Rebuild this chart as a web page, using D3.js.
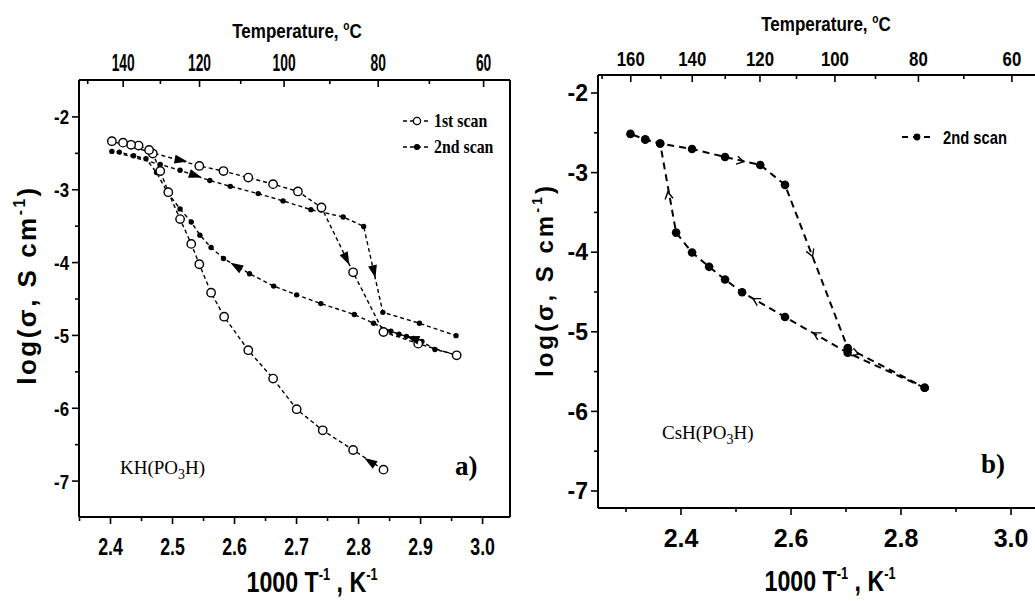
<!DOCTYPE html>
<html>
<head>
<meta charset="utf-8">
<script src="https://cdn.jsdelivr.net/npm/d3@7"></script>
<style>
  body { margin: 0; background: #fff; }
  svg { display: block; }
  .sans { font-family: "Liberation Sans", Arial, sans-serif; font-weight: bold; }
  .serif { font-family: "Liberation Serif", "Times New Roman", serif; }
</style>
</head>
<body>
<svg id="chart" width="1035" height="601"></svg>
<script>
// --- Data (x = 1000/T in K^-1, y = log sigma) ---
// KH(PO3H), 1st scan: heating (lower branch) then cooling (upper branch)
const kh1stScan = [
  [2.841, -6.85], [2.792, -6.58], [2.743, -6.31], [2.701, -6.02], [2.663, -5.60],
  [2.623, -5.21], [2.584, -4.75], [2.563, -4.42], [2.544, -4.03], [2.531, -3.75],
  [2.513, -3.41], [2.494, -3.04], [2.481, -2.75], [2.469, -2.51], [2.463, -2.46],
  [2.446, -2.40], [2.434, -2.39], [2.421, -2.36], [2.403, -2.34],
  [2.544, -2.68], [2.583, -2.75], [2.623, -2.84], [2.663, -2.93], [2.703, -3.03],
  [2.741, -3.25], [2.792, -4.14], [2.841, -4.96], [2.897, -5.12], [2.959, -5.28]
];
// KH(PO3H), 2nd scan
const kh2ndScan = [
  [2.958, -5.27], [2.924, -5.20], [2.903, -5.09], [2.890, -5.05], [2.878, -5.02],
  [2.866, -4.99], [2.853, -4.95], [2.825, -4.84], [2.794, -4.72], [2.740, -4.57],
  [2.701, -4.45], [2.664, -4.33], [2.625, -4.16], [2.583, -3.95], [2.563, -3.80],
  [2.545, -3.63], [2.531, -3.45], [2.513, -3.27], [2.493, -3.05], [2.475, -2.77],
  [2.458, -2.58], [2.438, -2.54], [2.415, -2.49], [2.403, -2.48],
  [2.481, -2.66], [2.513, -2.74], [2.561, -2.88], [2.594, -2.96], [2.639, -3.06],
  [2.679, -3.16], [2.724, -3.28], [2.776, -3.38], [2.809, -3.51], [2.840, -4.69],
  [2.899, -4.84], [2.958, -5.01]
];
// CsH(PO3H), 2nd scan
const cs2ndScan = [
  [2.844, -5.71], [2.704, -5.27], [2.590, -4.82], [2.512, -4.51], [2.481, -4.35],
  [2.452, -4.19], [2.421, -4.01], [2.392, -3.76], [2.363, -2.64], [2.336, -2.59],
  [2.309, -2.52], [2.336, -2.59], [2.363, -2.64], [2.421, -2.71], [2.481, -2.81],
  [2.545, -2.91], [2.590, -3.16], [2.704, -5.21], [2.844, -5.71]
];

// direction arrows: [fromX, fromY, toX, toY]
const khArrows = [
  [2.500, -2.58, 2.525, -2.62],
  [2.530, -2.79, 2.548, -2.84],
  [2.612, -4.10, 2.594, -4.01],
  [2.770, -3.76, 2.786, -4.04],
  [2.822, -4.00, 2.828, -4.22],
  [2.830, -6.80, 2.810, -6.69],
  [2.900, -5.08, 2.878, -5.02]
];
const csArrows = [
  [2.490, -2.83, 2.515, -2.87],
  [2.630, -3.88, 2.640, -4.06],
  [2.382, -3.45, 2.377, -3.25],
  [2.550, -4.66, 2.532, -4.59],
  [2.660, -5.09, 2.642, -5.02],
  [2.708, -5.25, 2.724, -5.29]
];

const xTicksA = [2.4, 2.5, 2.6, 2.7, 2.8, 2.9, 3.0];
const xMinorA = [2.35, 2.45, 2.55, 2.65, 2.75, 2.85, 2.95];
const xTicksB = [2.4, 2.6, 2.8, 3.0];
const xMinorB = [2.3, 2.5, 2.7, 2.9];
const yTicks = [-2, -3, -4, -5, -6, -7];
const yMinor = [-2.5, -3.5, -4.5, -5.5, -6.5];
const tempTicksA = [140, 120, 100, 80, 60];
const tempMinorA = [150, 130, 110, 90, 70];
const tempTicksB = [160, 140, 120, 100, 80, 60];
const tempMinorB = [170, 150, 130, 110, 90, 70];

const toInvT = t => 1000 / (t + 273.15);

const svg = d3.select('#chart');

// condensed text: scale horizontally around its anchor
function placeText(g, x, y, size, sx, cls) {
  return g.append('text').attr('class', cls).attr('font-size', size)
    .attr('text-anchor', 'middle').attr('transform', `translate(${x},${y}) scale(${sx},1)`);
}

function drawPanel(opt) {
  const { x, y } = opt;
  const g = svg.append('g');
  const [x0, x1] = x.range();
  const [y0, y1] = y.range(); // y0 bottom, y1 top

  // minor ticks
  g.append('g').attr('transform', `translate(0,${y0})`)
    .call(d3.axisBottom(x).tickValues(opt.xMinor).tickSize(4).tickFormat(''));
  g.append('g').attr('transform', `translate(${x0},0)`)
    .call(d3.axisLeft(y).tickValues(yMinor).tickSize(4).tickFormat(''));
  g.append('g').attr('transform', `translate(0,${y1})`)
    .call(d3.axisTop(x).tickValues(opt.tempMinor.map(toInvT)).tickSize(-4).tickFormat(''));

  // major axes
  const bottom = g.append('g').attr('transform', `translate(0,${y0})`)
    .call(d3.axisBottom(x).tickValues(opt.xTicks).tickSize(7).tickPadding(opt.bottomPad).tickFormat(d3.format('.1f')));
  bottom.selectAll('text').attr('class', 'sans').attr('font-size', opt.bottomFont)
    .attr('transform', `scale(${opt.bottomScale},1)`);

  const left = g.append('g').attr('transform', `translate(${x0},0)`)
    .call(d3.axisLeft(y).tickValues(yTicks).tickSize(7).tickPadding(5).tickFormat(d => String(d)));
  left.selectAll('text').attr('class', 'sans').attr('font-size', opt.leftFont).attr('dy', '0.36em')
    .attr('x', -(opt.leftGap) / opt.leftScale).attr('transform', `scale(${opt.leftScale},1)`);

  const top = g.append('g').attr('transform', `translate(0,${y1})`)
    .call(d3.axisTop(x).tickValues(opt.tempTicks.map(toInvT)).tickSize(-7).tickPadding(opt.topPad)
      .tickFormat((d, i) => opt.tempTicks[i]));
  top.selectAll('text').attr('class', 'sans').attr('font-size', opt.topFont)
    .attr('transform', `scale(${opt.topScale},1)`);

  g.selectAll('.domain').remove();
  g.selectAll('.tick line').attr('stroke', '#000').attr('stroke-width', 1.6);
  g.selectAll('.tick text').attr('fill', '#000');

  // frame
  const frame = [[x0, y0, x1, y0], [x0, y1, x1, y1], [x0, y0, x0, y1], [x1, y0, x1, y1]];
  g.selectAll('.frame').data(frame).join('line')
    .attr('x1', d => d[0]).attr('y1', d => d[1]).attr('x2', d => d[2]).attr('y2', d => d[3])
    .attr('stroke', '#000').attr('stroke-width', 2);

  // titles
  const tt = placeText(g, opt.titleX, opt.titleY, opt.titleFont, opt.titleScale, 'sans');
  tt.append('tspan').text('Temperature, ');
  tt.append('tspan').attr('font-size', opt.titleFont * 0.6).attr('dy', -8).text('o');
  tt.append('tspan').attr('dy', 8).text('C');

  const xl = placeText(g, opt.xlabX, opt.xlabY, opt.xlabFont, opt.xlabScale, 'sans');
  xl.append('tspan').text('1000 T');
  xl.append('tspan').attr('font-size', opt.xlabFont * 0.55).attr('dy', -12).text('-1');
  xl.append('tspan').attr('dy', 12).text(' , K');
  xl.append('tspan').attr('font-size', opt.xlabFont * 0.55).attr('dy', -12).text('-1');

  const yl = g.append('text').attr('class', 'sans').attr('font-size', opt.ylabFont)
    .attr('letter-spacing', opt.ylabSpacing)
    .attr('transform', `translate(${opt.ylabX},${opt.ylabY}) rotate(-90)`).attr('text-anchor', 'middle');
  yl.append('tspan').text('log(σ, S cm');
  yl.append('tspan').attr('font-size', opt.ylabFont * 0.6).attr('dy', -11).text('-1');
  yl.append('tspan').attr('dy', 11).text(')');

  return g;
}

// ---------- Panel a ----------
const xA = d3.scaleLinear().domain([2.35, 3.045]).range([79, 510]);
const yA = d3.scaleLinear().domain([-7.5, -1.5]).range([517, 80]);
const gA = drawPanel({
  x: xA, y: yA, xTicks: xTicksA, xMinor: xMinorA, tempTicks: tempTicksA, tempMinor: tempMinorA,
  bottomPad: 14, bottomFont: 24, bottomScale: 0.74,
  leftFont: 21, leftScale: 0.8, leftGap: 10,
  topPad: 9, topFont: 23, topScale: 0.6,
  titleFont: 20, titleScale: 0.85, titleX: 297, titleY: 38,
  xlabFont: 29, xlabScale: 0.8, xlabX: 312, xlabY: 592,
  ylabFont: 26, ylabSpacing: 2.5, ylabX: 36, ylabY: 285
});

const lineA = d3.line().x(d => xA(d[0])).y(d => yA(d[1]));
gA.append('path').datum(kh2ndScan).attr('d', lineA).attr('fill', 'none')
  .attr('stroke', '#000').attr('stroke-width', 1.4).attr('stroke-dasharray', '4,3');
gA.append('path').datum(kh1stScan).attr('d', lineA).attr('fill', 'none')
  .attr('stroke', '#000').attr('stroke-width', 1.4).attr('stroke-dasharray', '4,3');
gA.selectAll('.dot2').data(kh2ndScan).join('circle')
  .attr('cx', d => xA(d[0])).attr('cy', d => yA(d[1])).attr('r', 2.7).attr('fill', '#000');
gA.selectAll('.dot1').data(kh1stScan).join('circle')
  .attr('cx', d => xA(d[0])).attr('cy', d => yA(d[1])).attr('r', 4.2)
  .attr('fill', '#fff').attr('stroke', '#000').attr('stroke-width', 1.4);

gA.selectAll('.arrowA').data(khArrows).join('path')
  .attr('d', 'M0,0 L-13,-4.5 L-13,4.5 Z').attr('fill', '#000')
  .attr('transform', d => {
    const ang = Math.atan2(yA(d[3]) - yA(d[1]), xA(d[2]) - xA(d[0])) * 180 / Math.PI;
    return `translate(${xA(d[2])},${yA(d[3])}) rotate(${ang})`;
  });

// legend a
const legA = gA.append('g');
[['1st scan', 121, true], ['2nd scan', 147, false]].forEach(([label, ly, open]) => {
  legA.append('line').attr('x1', 403).attr('x2', 431).attr('y1', ly).attr('y2', ly)
    .attr('stroke', '#000').attr('stroke-width', 1.4).attr('stroke-dasharray', '4,3');
  legA.append('circle').attr('cx', 417).attr('cy', ly).attr('r', open ? 3.6 : 2.4)
    .attr('fill', open ? '#fff' : '#000').attr('stroke', '#000').attr('stroke-width', 1.3);
  legA.append('text').attr('class', 'serif').attr('font-weight', 'bold').attr('font-size', 18)
    .attr('transform', `translate(434,${ly + 6}) scale(0.88,1)`).text(label);
});

const lblA = gA.append('text').attr('class', 'serif').attr('font-size', 19).attr('x', 120).attr('y', 474);
lblA.append('tspan').text('KH(PO');
lblA.append('tspan').attr('font-size', 14).attr('dy', 5).text('3');
lblA.append('tspan').attr('dy', -5).text('H)');
gA.append('text').attr('class', 'serif').attr('font-weight', 'bold').attr('font-size', 27)
  .attr('x', 455).attr('y', 475).text('a)');

// ---------- Panel b ----------
const xB = d3.scaleLinear().domain([2.25, 3.05]).range([598, 1038]);
const yB = d3.scaleLinear().domain([-7.22, -1.78]).range([508, 75]);
const gB = drawPanel({
  x: xB, y: yB, xTicks: xTicksB, xMinor: xMinorB, tempTicks: tempTicksB, tempMinor: tempMinorB,
  bottomPad: 14, bottomFont: 25, bottomScale: 1,
  leftFont: 23, leftScale: 1, leftGap: 10,
  topPad: 9, topFont: 21, topScale: 0.8,
  titleFont: 20, titleScale: 0.85, titleX: 826, titleY: 31,
  xlabFont: 29, xlabScale: 0.8, xlabX: 830, xlabY: 591,
  ylabFont: 24, ylabSpacing: 3, ylabX: 553, ylabY: 280
});

const lineB = d3.line().x(d => xB(d[0])).y(d => yB(d[1]));
gB.append('path').datum(cs2ndScan).attr('d', lineB).attr('fill', 'none')
  .attr('stroke', '#000').attr('stroke-width', 2).attr('stroke-dasharray', '7,5');
gB.selectAll('.dotB').data(cs2ndScan).join('circle')
  .attr('cx', d => xB(d[0])).attr('cy', d => yB(d[1])).attr('r', 4.3).attr('fill', '#000');

gB.selectAll('.arrowB').data(csArrows).join('path')
  .attr('d', 'M-7,-4 L0,0 L-7,4').attr('fill', 'none').attr('stroke', '#000').attr('stroke-width', 1.4)
  .attr('transform', d => {
    const ang = Math.atan2(yB(d[3]) - yB(d[1]), xB(d[2]) - xB(d[0])) * 180 / Math.PI;
    return `translate(${xB(d[2])},${yB(d[3])}) rotate(${ang})`;
  });

// legend b
gB.append('line').attr('x1', 902).attr('x2', 933).attr('y1', 137).attr('y2', 137)
  .attr('stroke', '#000').attr('stroke-width', 2).attr('stroke-dasharray', '6,5');
gB.append('circle').attr('cx', 917).attr('cy', 137).attr('r', 3.4).attr('fill', '#000');
gB.append('text').attr('class', 'sans').attr('font-size', 18)
  .attr('transform', 'translate(943,144) scale(0.82,1)').text('2nd scan');

const lblB = gB.append('text').attr('class', 'serif').attr('font-size', 19).attr('x', 662).attr('y', 439);
lblB.append('tspan').text('CsH(PO');
lblB.append('tspan').attr('font-size', 14).attr('dy', 5).text('3');
lblB.append('tspan').attr('dy', -5).text('H)');
gB.append('text').attr('class', 'serif').attr('font-weight', 'bold').attr('font-size', 27)
  .attr('x', 981).attr('y', 473).text('b)');
</script>
</body>
</html>
